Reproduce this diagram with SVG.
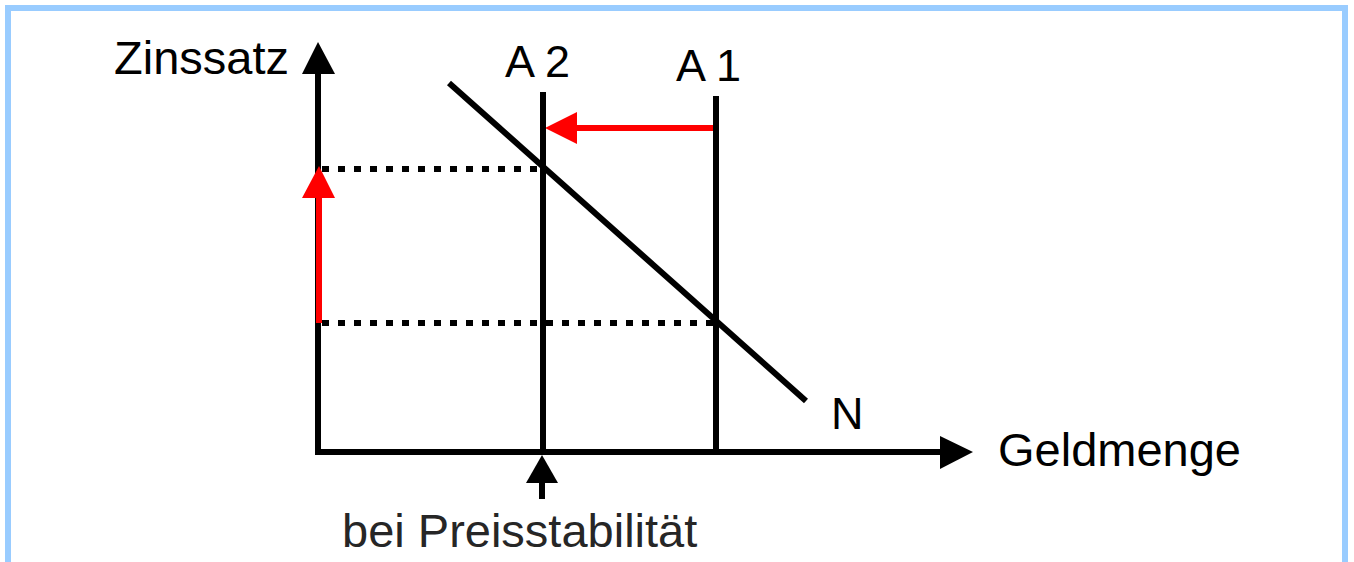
<svg xmlns="http://www.w3.org/2000/svg" width="1354" height="562" viewBox="0 0 1354 562">
<style>
.t{font-family:"Liberation Sans",Arial,sans-serif;font-size:47px;fill:#000}
.ln{stroke:#000;stroke-width:6;fill:none}
.dot{stroke:#000;stroke-width:6;stroke-dasharray:7 9;fill:none}
.red{stroke:#f00;stroke-width:6;fill:none}
</style>
<rect x="0" y="0" width="1354" height="562" fill="#fff"/>
<rect x="8" y="8" width="1337" height="600" fill="none" stroke="#99ccff" stroke-width="6"/>
<g id="connectors">
<line class="dot" x1="322" y1="169" x2="542" y2="169"/>
<line class="dot" x1="322" y1="323" x2="716" y2="323"/>
<line class="ln" x1="318" y1="72" x2="318" y2="452"/>
<polygon points="318,42 302,74 335,74" fill="#000"/>
<line class="ln" x1="315" y1="452" x2="944" y2="452"/>
<polygon points="973,452 940,436 940,469" fill="#000"/>
<line class="red" x1="319" y1="323" x2="319" y2="196"/>
<polygon points="319,166 302,198 335,198" fill="#f00"/>
<line class="red" x1="713" y1="128" x2="575" y2="128"/>
<polygon points="545,128 577,112 577,144" fill="#f00"/>
<line class="ln" x1="542" y1="481" x2="542" y2="499"/>
<polygon points="542,455 526,483 558,483" fill="#000"/>
</g>
<g id="A2"><line class="ln" x1="543" y1="92" x2="543" y2="452"/><text class="t" x="505" y="77" font-size="45" style="font-size:45px">A 2</text></g>
<g id="A1"><line class="ln" x1="716" y1="96" x2="716" y2="452"/><text class="t" x="676" y="81" style="font-size:45px">A 1</text></g>
<g id="N"><line class="ln" x1="449" y1="83" x2="806" y2="401"/><text class="t" x="831" y="429" style="font-size:45px">N</text></g>
<g id="labels">
<text class="t" x="114" y="74">Zinssatz</text>
<text class="t" x="998" y="466">Geldmenge</text>
<text class="t" x="342" y="547" style="fill:#262626">bei Preisstabilität</text>
</g>
</svg>
